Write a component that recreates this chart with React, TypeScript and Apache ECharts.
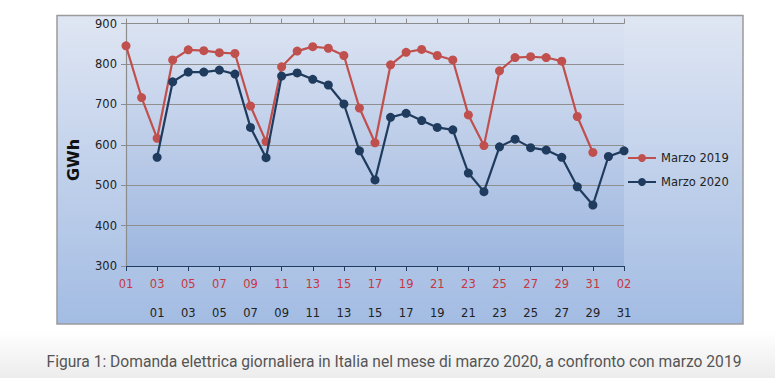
import React, { useEffect, useRef } from "react";
import * as echarts from "echarts";

const topLabels = [
  "01","02","03","04","05","06","07","08","09","10","11","12","13","14","15","16",
  "17","18","19","20","21","22","23","24","25","26","27","28","29","30","31","01","02",
];
const bottomLabels = [
  "","","01","02","03","04","05","06","07","08","09","10","11","12","13","14","15",
  "16","17","18","19","20","21","22","23","24","25","26","27","28","29","30","31",
];
const marzo2019 = [
  845, 717, 616, 810, 835, 833, 828, 826, 696, 608, 793, 832, 843, 839, 821, 691,
  605, 798, 829, 836, 821, 810, 674, 598, 783, 816, 818, 816, 807, 670, 581,
];
const marzo2020 = [
  569, 756, 780, 780, 785, 775, 643, 568, 770, 778, 762, 748, 701, 585, 513, 668,
  678, 660, 643, 637, 530, 484, 595, 614, 593, 587, 569, 496, 451, 571, 585,
];
const caption =
  "Figura 1: Domanda elettrica giornaliera in Italia nel mese di marzo 2020, a confronto con marzo 2019";

const RED = "#c0504d";
const NAVY = "#1f3b5e";
const FONT = "DejaVu Sans";

export default function App() {
  const ref = useRef<HTMLDivElement>(null);
  useEffect(() => {
    if (!ref.current) return;
    const chart = echarts.init(ref.current, undefined, { renderer: "svg" });
    const showEven = (i: number) => i % 2 === 0;
    chart.setOption({
      animation: false,
      backgroundColor: "#ffffff",
      graphic: [
        {
          type: "rect",
          z: -10,
          shape: { x: 0, y: 330, width: 775, height: 48 },
          style: {
            fill: new echarts.graphic.LinearGradient(0, 0, 0, 1, [
              { offset: 0, color: "#ffffff" },
              { offset: 1, color: "#ececec" },
            ]),
          },
        },
        {
          type: "rect",
          z: -5,
          shape: { x: 57, y: 15.5, width: 686, height: 308.5 },
          style: {
            fill: new echarts.graphic.LinearGradient(0, 0, 0, 1, [
              { offset: 0, color: "#dfe6f3" },
              { offset: 1, color: "#a3bce3" },
            ]),
            stroke: "#9a9a9a",
            lineWidth: 1.5,
          },
        },
        {
          type: "text",
          x: 73,
          y: 160,
          rotation: Math.PI / 2,
          style: {
            text: "GWh",
            fontFamily: FONT,
            fontSize: 16,
            fontWeight: "bold",
            fill: "#111",
            align: "center",
            verticalAlign: "middle",
          },
        },
        {
          type: "text",
          x: 394,
          y: 362,
          style: {
            text: caption,
            fontFamily: "Roboto",
            fontSize: 15.6,
            fill: "#555",
            align: "center",
            verticalAlign: "middle",
          },
        },
      ],
      legend: {
        orient: "vertical",
        left: 622,
        top: 147,
        itemWidth: 28,
        itemHeight: 10,
        itemGap: 12,
        textStyle: { fontFamily: FONT, fontSize: 11.5, color: "#222" },
        data: ["Marzo 2019", "Marzo 2020"],
      },
      grid: {
        left: 126,
        right: 151,
        top: 23.6,
        bottom: 112,
        show: true,
        borderWidth: 0,
        backgroundColor: new echarts.graphic.LinearGradient(0, 0, 0, 1, [
          { offset: 0, color: "#dbe3f2" },
          { offset: 1, color: "#9db6df" },
        ]),
      },
      xAxis: [
        {
          type: "category",
          data: topLabels,
          boundaryGap: false,
          position: "bottom",
          axisLine: { lineStyle: { color: NAVY, width: 1.2 } },
          axisTick: { interval: 1, length: 5, lineStyle: { color: NAVY } },
          axisLabel: {
            interval: 1,
            margin: 12,
            color: "#c8373f",
            fontFamily: FONT,
            fontSize: 11.5,
          },
          splitLine: { show: false },
        },
        {
          type: "category",
          data: bottomLabels,
          boundaryGap: false,
          position: "bottom",
          offset: 29,
          axisLine: { show: false },
          axisTick: { show: false },
          axisLabel: {
            interval: (i: number) => i >= 2 && showEven(i),
            margin: 12,
            color: "#222",
            fontFamily: FONT,
            fontSize: 11.5,
          },
          splitLine: { show: false },
        },
        {
          type: "category",
          data: topLabels,
          boundaryGap: false,
          position: "top",
          axisLine: { lineStyle: { color: "#8c8c8c", width: 1.2 } },
          axisTick: { interval: 1, length: 5, lineStyle: { color: "#8c8c8c" } },
          axisLabel: { show: false },
          splitLine: { show: false },
        },
      ],
      yAxis: {
        type: "value",
        min: 300,
        max: 900,
        interval: 100,
        axisLine: { show: true, lineStyle: { color: "#8c8c8c", width: 1.2 } },
        axisTick: { show: true, length: 5, lineStyle: { color: "#8c8c8c" } },
        axisLabel: {
          margin: 9,
          color: "#222",
          fontFamily: FONT,
          fontSize: 11.5,
        },
        splitLine: { lineStyle: { color: "#8f8f8f", width: 1.2 } },
      },
      series: [
        {
          name: "Marzo 2019",
          type: "line",
          xAxisIndex: 0,
          data: marzo2019,
          symbol: "circle",
          symbolSize: 9,
          lineStyle: { color: RED, width: 2.2 },
          itemStyle: { color: RED },
          z: 3,
        },
        {
          name: "Marzo 2020",
          type: "line",
          xAxisIndex: 1,
          data: [null, null, ...marzo2020],
          symbol: "circle",
          symbolSize: 9,
          lineStyle: { color: NAVY, width: 2.2 },
          itemStyle: { color: NAVY },
          z: 4,
        },
      ],
    });
    return () => chart.dispose();
  }, []);
  return (
    <div
      ref={ref}
      style={{ position: "fixed", left: 0, top: 0, width: 775, height: 378 }}
    />
  );
}
